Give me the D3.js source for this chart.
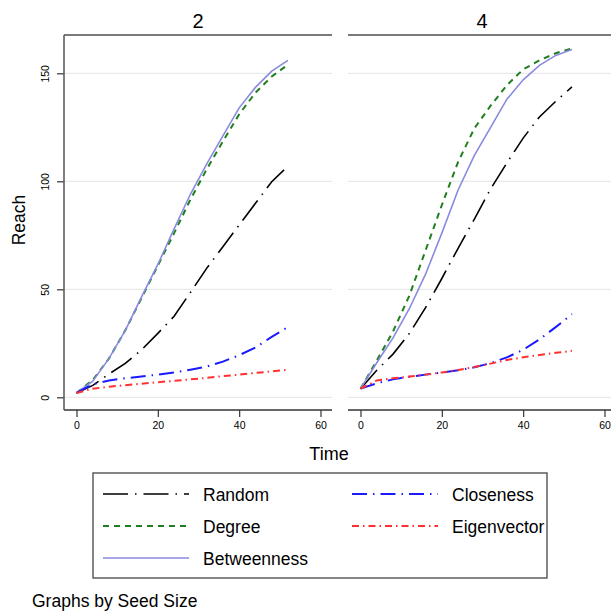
<!DOCTYPE html>
<html><head><meta charset="utf-8">
<script src="https://cdn.jsdelivr.net/npm/d3@7"></script>
<style>
html,body{margin:0;padding:0;background:#fff;}
svg{display:block;font-family:"Liberation Sans",Arial,Helvetica,sans-serif;}
</style></head>
<body><svg id="chart" width="611" height="616"></svg>
<script>
// ---- data ----
const times = [0, 4, 8, 12, 16, 20, 24, 28, 32, 36, 40, 44, 48, 52];
const seedSizes = ["2", "4"];
const seriesNames = ["Random", "Degree", "Betweenness", "Closeness", "Eigenvector"];
const xTicks = [0, 20, 40, 60];
const yTicks = [0, 50, 100, 150];

const random2      = [2, 5.5, 10.8, 15.7, 22, 29.6, 37.5, 48.5, 59.7, 69.7, 79.8, 89.8, 99.8, 107];
const degree2      = [2, 8, 18, 31, 46, 61, 76, 91.5, 105.5, 118.5, 131, 141, 148.5, 154];
const betweenness2 = [2, 7.5, 18, 31, 46.5, 61.5, 78, 94, 108, 121, 134, 143.5, 151, 156];
const closeness2   = [2, 6, 7.8, 8.8, 9.6, 10.5, 11.5, 12.8, 14.2, 16.5, 19.5, 23, 28, 32.5];
const eigen2       = [2, 4, 4.9, 5.6, 6.3, 7, 7.6, 8.3, 9, 9.8, 10.5, 11.3, 12, 12.7];

const random4      = [4, 12.5, 20, 29.5, 41.5, 55, 69, 82.5, 96.5, 108.5, 120, 129.8, 137, 143.7];
const degree4      = [4, 17, 30.5, 47, 68, 89, 109, 124.5, 135, 144.5, 151.8, 156, 159.3, 161.5];
const betweenness4 = [4, 16, 27.5, 41, 57, 76, 96, 112, 125, 138, 147, 153.7, 158.3, 161];
const closeness4   = [4, 6.5, 8.3, 9.5, 10.5, 11.5, 12.5, 13.9, 15.8, 18.5, 22, 26.8, 32.5, 38.5];
const eigen4       = [4, 7.8, 8.8, 9.6, 10.5, 11.5, 12.6, 14, 15.6, 17.3, 18.5, 19.6, 20.6, 21.5];

const panelData = {
  "2": [random2, degree2, betweenness2, closeness2, eigen2],
  "4": [random4, degree4, betweenness4, closeness4, eigen4]
};

// ---- styles ----
const styles = {
  Random:      {color: "#000000", dash: "25,7,1.5,7", width: 1.6},
  Degree:      {color: "#1f7f1f", dash: "6,5", width: 2},
  Betweenness: {color: "#8a8ae0", dash: null, width: 1.6},
  Closeness:   {color: "#1a1aff", dash: "15,6,1.5,6", width: 2},
  Eigenvector: {color: "#ff3030", dash: "7,4,1.5,4", width: 2}
};

const svg = d3.select("#chart");
svg.append("rect").attr("width", 611).attr("height", 616).attr("fill", "#fff");

const panelX0 = [64, 348];
const panelW = 268;
const plotTop = 35, plotBottom = 410;

const y = d3.scaleLinear().domain([0, 150]).range([397.3, 73.3]);

seedSizes.forEach((s, i) => {
  const x0 = panelX0[i];
  const x = d3.scaleLinear().domain([0, 60]).range([x0 + 12.5, x0 + 256.5]);
  const g = svg.append("g");

  // title
  g.append("text").attr("x", x0 + panelW / 2).attr("y", 28)
    .attr("text-anchor", "middle").attr("font-size", 20).attr("fill", "#000").text(s);

  // grid
  g.selectAll(".grid").data(yTicks).enter().append("line")
    .attr("x1", x0).attr("x2", x0 + panelW)
    .attr("y1", d => y(d)).attr("y2", d => y(d))
    .attr("stroke", "#e4e4e4").attr("stroke-width", 1);

  // top border
  g.append("line").attr("x1", x0).attr("x2", x0 + panelW).attr("y1", plotTop).attr("y2", plotTop)
    .attr("stroke", "#7a7a7a").attr("stroke-width", 2);

  // x axis
  const xa = g.append("g").attr("transform", `translate(0,${plotBottom})`)
    .call(d3.axisBottom(x).tickValues(xTicks).tickSize(7).tickPadding(5).tickFormat(d3.format("d")));
  xa.select(".domain").remove();
  xa.selectAll(".tick line").attr("stroke", "#333").attr("stroke-width", 1.2);
  xa.selectAll(".tick text").attr("font-size", 10.5).attr("fill", "#000")
    .attr("font-family", "'Liberation Sans',Arial,sans-serif");
  g.append("line").attr("x1", x0).attr("x2", x0 + panelW).attr("y1", plotBottom).attr("y2", plotBottom)
    .attr("stroke", "#333").attr("stroke-width", 1.5);

  if (i === 0) {
    const ya = g.append("g").attr("transform", `translate(${x0},0)`)
      .call(d3.axisLeft(y).tickValues(yTicks).tickSize(7).tickFormat(d3.format("d")));
    ya.select(".domain").remove();
    ya.selectAll(".tick line").attr("stroke", "#333").attr("stroke-width", 1.2);
    ya.selectAll(".tick text").remove();
    ya.selectAll(".tick").append("text")
      .attr("transform", "translate(-18.5,0) rotate(-90)")
      .attr("text-anchor", "middle").attr("dy", "0.35em")
      .attr("font-size", 10.5).attr("fill", "#000")
      .attr("font-family", "'Liberation Sans',Arial,sans-serif")
      .text(d => d);
    g.append("line").attr("x1", x0).attr("x2", x0).attr("y1", plotTop).attr("y2", plotBottom)
      .attr("stroke", "#555").attr("stroke-width", 1.5);
  }

  // lines
  const line = d3.line().x((d, j) => x(times[j])).y(d => y(d));
  panelData[s].forEach((vals, k) => {
    const st = styles[seriesNames[k]];
    g.append("path").datum(vals).attr("d", line)
      .attr("fill", "none").attr("stroke", st.color).attr("stroke-width", st.width)
      .attr("stroke-dasharray", st.dash);
  });
});

// axis titles
svg.append("text").attr("transform", "translate(25,220) rotate(-90)")
  .attr("text-anchor", "middle").attr("font-size", 17.5).text("Reach");
svg.append("text").attr("x", 329).attr("y", 460)
  .attr("text-anchor", "middle").attr("font-size", 18).text("Time");

// legend
svg.append("rect").attr("x", 93).attr("y", 473).attr("width", 454).attr("height", 105)
  .attr("fill", "#fff").attr("stroke", "#444").attr("stroke-width", 1.3);
const legendPos = [
  {lx: 103, ly: 494}, {lx: 103, ly: 526}, {lx: 103, ly: 558},
  {lx: 352, ly: 494}, {lx: 352, ly: 526}
];
seriesNames.forEach((n, k) => {
  const p = legendPos[k], st = styles[n];
  svg.append("line").attr("x1", p.lx).attr("x2", p.lx + 86).attr("y1", p.ly).attr("y2", p.ly)
    .attr("stroke", st.color).attr("stroke-width", st.width).attr("stroke-dasharray", st.dash);
  svg.append("text").attr("x", p.lx + 100).attr("y", p.ly + 6.5)
    .attr("font-size", 17.5).attr("fill", "#000").text(n);
});

svg.append("text").attr("x", 32).attr("y", 607).attr("font-size", 17.5).text("Graphs by Seed Size");
</script></body></html>
